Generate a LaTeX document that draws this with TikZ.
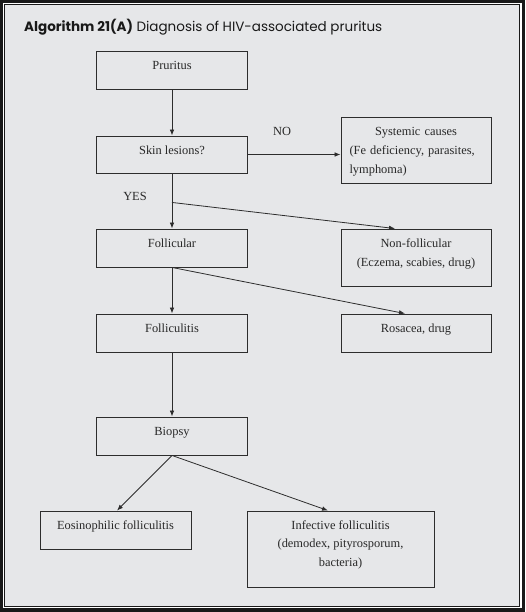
\documentclass[tikz,border=0pt]{standalone}
\usepackage{fontspec}
\setmainfont{Liberation Serif}
\newfontfamily\titlefont{Poppins}
\usetikzlibrary{arrows.meta}
\definecolor{bgray}{RGB}{230,231,233}
\definecolor{lineC}{RGB}{45,45,45}
\definecolor{txtC}{RGB}{40,40,40}
\newcommand{\fl}{\rule{0pt}{9pt}}
\tikzset{
  box/.style={draw=lineC, line width=0.9pt, rectangle, inner sep=0pt},
  lbl/.style={anchor=north, inner sep=0pt, text=txtC, font=\fontsize{12.4}{19}\selectfont},
  arr/.style={draw=lineC, line width=0.8pt, -{Latex[length=6pt,width=4.6pt]}},
  tag/.style={inner sep=0pt, text=txtC, font=\fontsize{12.4}{14}\selectfont}
}
\begin{document}
\begin{tikzpicture}[x=1pt,y=-1pt]
\useasboundingbox (0,0) rectangle (525,612);
% frame
\fill[black!90] (0,0) rectangle (525,612);
\fill[white] (3,3) rectangle (521.5,608);
\fill[black!90] (4,4) rectangle (520,606.5);
\fill[bgray] (5,5) rectangle (519,605.5);
% title
\node[anchor=base west, inner sep=0pt, text=black!90] (title) at (24,31.5)
  {\titlefont\fontsize{13.5}{16}\selectfont\textbf{Algorithm 21(A)} Diagnosis of HIV-associated pruritus};
% boxes
\node[box, minimum width=151, minimum height=38] (pru) at (172,70) {};
\node[box, minimum width=151, minimum height=37] (skin) at (172,154.5) {};
\node[box, minimum width=150, minimum height=66] (sys) at (416,150) {};
\node[box, minimum width=151, minimum height=38] (foll) at (172,248) {};
\node[box, minimum width=150, minimum height=57] (nonf) at (416,257.5) {};
\node[box, minimum width=151, minimum height=38] (folls) at (172,333) {};
\node[box, minimum width=150, minimum height=38] (ros) at (416,333) {};
\node[box, minimum width=151, minimum height=38] (bio) at (172,436) {};
\node[box, minimum width=151, minimum height=38] (eos) at (115.5,530) {};
\node[box, minimum width=187, minimum height=76] (inf) at (340.5,549) {};
% texts
\node[lbl] (tpru) at ([yshift=-9.5pt]pru.north) {\fl Pruritus};
\node[lbl] (tskin) at ([yshift=-9.5pt]skin.north) {\fl Skin lesions?};
\node[lbl, text width=133pt, align=left] (tsys) at ([yshift=-9.5pt]sys.north)
  {\makebox[\linewidth]{\fl Systemic causes}\\
   \makebox[\linewidth][s]{(Fe deficiency, parasites,}\\
   lymphoma)};
\node[lbl] (tfoll) at ([yshift=-9.5pt]foll.north) {\fl Follicular};
\node[lbl, align=center] (tnonf) at ([yshift=-9.5pt]nonf.north) {\fl Non-follicular\\(Eczema, scabies, drug)};
\node[lbl] (tfolls) at ([yshift=-9.5pt]folls.north) {\fl Folliculitis};
\node[lbl] (tros) at ([yshift=-9.5pt]ros.north) {\fl Rosacea, drug};
\node[lbl] (tbio) at ([yshift=-9.5pt]bio.north) {\fl Biopsy};
\node[lbl] (teos) at ([yshift=-9.5pt]eos.north) {\fl Eosinophilic folliculitis};
\node[lbl, align=center, font=\fontsize{12.4}{18.5}\selectfont] (tinf) at ([yshift=-9.5pt]inf.north) {\fl Infective folliculitis\\(demodex, pityrosporum,\\bacteria)};
% branch labels
\node[tag] (no) at (282,131) {NO};
\node[tag] (yes) at (135,196) {YES};
% connectors
\coordinate (yb) at ([yshift=-29pt]skin.south);
\draw[arr] (pru.south) -- (skin.north);
\draw[arr] (skin.east) -- (skin.east -| sys.west);
\draw[arr] (skin.south) -- (foll.north);
\draw[arr] (yb) -- ([xshift=-21pt]nonf.north);
\draw[arr] (foll.south) -- (folls.north);
\draw[arr] (foll.south) -- ([xshift=-11pt]ros.north);
\draw[arr] (folls.south) -- (bio.north);
\draw[arr] (bio.south) -- ([xshift=1.5pt]eos.north);
\draw[arr] (bio.south) -- ([xshift=-12.5pt]inf.north);
\end{tikzpicture}
\end{document}
